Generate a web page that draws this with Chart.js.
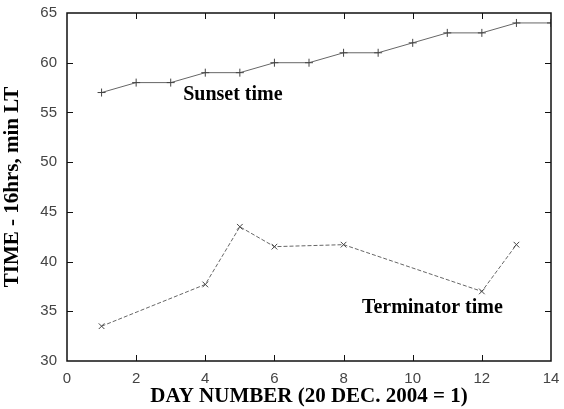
<!DOCTYPE html>
<html>
<head>
<meta charset="utf-8">
<script src="https://cdn.jsdelivr.net/npm/chart.js@4.4.1/dist/chart.umd.min.js"></script>
<style>
  html, body { margin: 0; padding: 0; background: #fff; }
  #wrap { width: 564px; height: 409px; }
</style>
</head>
<body>
<div id="wrap"><canvas id="chart" width="564" height="409"></canvas></div>
<script>
const sunsetDays = [1, 2, 3, 4, 5, 6, 7, 8, 9, 10, 11, 12, 13, 14];
const sunsetTimes = [57, 58, 58, 59, 59, 60, 60, 61, 61, 62, 63, 63, 64, 64];

const termDays = [1, 4, 5, 6, 8, 12, 13];
const termTimes = [33.5, 37.7, 43.5, 41.5, 41.7, 37.0, 41.7];

const xTicks = [0, 2, 4, 6, 8, 10, 12, 14];
const yTicks = [30, 35, 40, 45, 50, 55, 60, 65];

const labels = [
  { text: "Sunset time", x: 3.36, y: 56.75 },
  { text: "Terminator time", x: 8.53, y: 35.3 }
];

function toPoints(xs, ys) {
  return xs.map((x, i) => ({ x: x, y: ys[i] }));
}

// frame, inward ticks and the two text labels
const framePlugin = {
  id: "frame",
  afterDatasetsDraw(chart) {
    const ctx = chart.ctx;
    const a = chart.chartArea;
    const xs = chart.scales.x, ys = chart.scales.y;
    ctx.save();
    ctx.strokeStyle = "#111";
    ctx.lineWidth = 1.5;
    ctx.strokeRect(a.left, a.top, a.right - a.left, a.bottom - a.top);

    ctx.lineWidth = 1;
    ctx.beginPath();
    xTicks.forEach(v => {
      if (v === xTicks[0] || v === xTicks[xTicks.length - 1]) return;
      const px = Math.round(xs.getPixelForValue(v)) + 0.5;
      ctx.moveTo(px, a.bottom); ctx.lineTo(px, a.bottom - 6);
      ctx.moveTo(px, a.top); ctx.lineTo(px, a.top + 6);
    });
    yTicks.forEach(v => {
      if (v === yTicks[0] || v === yTicks[yTicks.length - 1]) return;
      const py = Math.round(ys.getPixelForValue(v)) + 0.5;
      ctx.moveTo(a.right, py); ctx.lineTo(a.right - 6, py);
      ctx.moveTo(a.left, py); ctx.lineTo(a.left + 6, py);
    });
    ctx.stroke();

    ctx.fillStyle = "#000";
    ctx.font = "bold 20px 'Liberation Serif', 'Times New Roman', serif";
    ctx.textBaseline = "middle";
    ctx.textAlign = "left";
    labels.forEach(l => {
      ctx.fillText(l.text, xs.getPixelForValue(l.x), ys.getPixelForValue(l.y));
    });
    ctx.restore();
  }
};

const tickFont = { family: "'Liberation Sans', Arial, sans-serif", size: 15 };
const titleFont = { family: "'Liberation Serif', 'Times New Roman', serif", size: 21, weight: "bold" };

new Chart(document.getElementById("chart"), {
  type: "scatter",
  data: {
    datasets: [
      {
        label: "Sunset time",
        data: toPoints(sunsetDays, sunsetTimes),
        showLine: true,
        borderColor: "#666",
        borderWidth: 1,
        pointStyle: "cross",
        pointRadius: 4,
        pointBorderColor: "#444",
        pointBorderWidth: 1,
        pointBackgroundColor: "#444"
      },
      {
        label: "Terminator time",
        data: toPoints(termDays, termTimes),
        showLine: true,
        borderColor: "#666",
        borderWidth: 1,
        borderDash: [4, 2],
        pointStyle: "crossRot",
        pointRadius: 4,
        pointBorderColor: "#444",
        pointBorderWidth: 1,
        pointBackgroundColor: "#444"
      }
    ]
  },
  options: {
    responsive: false,
    animation: false,
    layout: { padding: { top: 13, right: 13, left: 0, bottom: 0 } },
    plugins: {
      legend: { display: false },
      tooltip: { enabled: false }
    },
    scales: {
      x: {
        type: "linear",
        min: 0,
        max: 14,
        afterBuildTicks: s => { s.ticks = xTicks.map(v => ({ value: v })); },
        afterFit: s => { s.height = 48; s.paddingLeft = 0; s.paddingRight = 0; },
        grid: { display: false, drawTicks: false },
        border: { display: false },
        ticks: { color: "#444", font: tickFont, padding: 9, maxRotation: 0 },
        title: { display: true, text: "DAY NUMBER (20 DEC. 2004 = 1)", color: "#000", font: titleFont, padding: { top: -3, bottom: 0 } }
      },
      y: {
        type: "linear",
        min: 30,
        max: 65,
        afterBuildTicks: s => { s.ticks = yTicks.map(v => ({ value: v })); },
        afterFit: s => { s.width = 67; s.paddingTop = 0; s.paddingBottom = 0; },
        grid: { display: false, drawTicks: false },
        border: { display: false },
        ticks: { color: "#444", font: tickFont, padding: 10 },
        title: { display: true, text: "TIME - 16hrs, min LT", color: "#000", font: titleFont, padding: { top: 0, bottom: 2 } }
      }
    }
  },
  plugins: [framePlugin]
});
</script>
</body>
</html>
